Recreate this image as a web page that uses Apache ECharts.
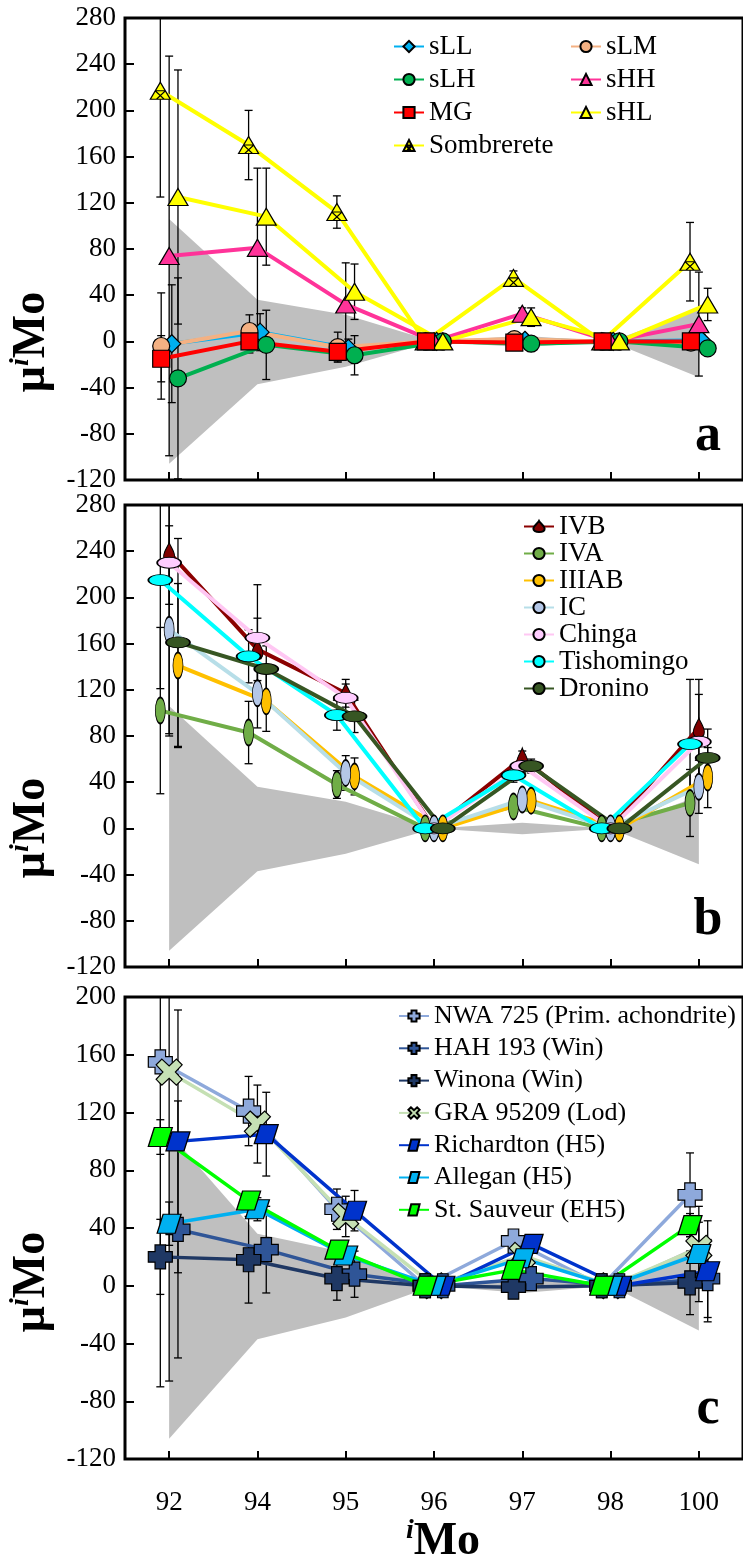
<!DOCTYPE html>
<html>
<head>
<meta charset="utf-8">
<script src="https://cdn.jsdelivr.net/npm/echarts@6/dist/echarts.min.js"></script>
<style>
html, body { margin: 0; padding: 0; background: #fff; }
#chart { width: 743px; height: 1563px; }
</style>
</head>
<body>
<div id="chart"></div>
<script>
// isotopes on the x axis
const isotopes = ['92', '94', '95', '96', '97', '98', '100'];

// grey reproducibility band (same in all panels)
const bandUpper = [106, 36, 23, 0, 5, 0, 28];
const bandLower = [-106, -37, -22, 0, -5, 0, -31];

// panel a
const sLL = [-2, 8, -6, 0, 1, 0, 1];
const sLLErr = [51, 16, 8, 3, 4, 3, 5];
const sLM = [-4, 9, -5, 0, 2, 0, -1];
const sLMErr = [46, 14, 13, 3, 4, 3, 5];
const sLH = [-32, -3, -12, 0, -2, 0, -6];
const sLHErr = [87, 30, 17, 3, 4, 3, 5];
const sHH = [74, 81, 32, 0, 24, 0, 15];
const sHHErr = [173, 69, 36, 3, 5, 3, 45];
const MG = [-15, 0, -9, 0, -1, 0, 0];
const MGErr = [20, 10, 8, 2, 3, 2, 3];
const sHL = [125, 108, 43, 0, 21, 0, 32];
const sHLErr = [110, 42, 24, 4, 8, 4, 14];
const sombrerete = [217, 170, 112, 0, 55, 0, 69];
const sombreteErr = [92, 30, 14, 4, 6, 4, 34];

// panel b
const IVB = [239, 155, 117, 0, 61, 0, 87];
const IVBErr = [45, 27, 12, 3, 6, 3, 42];
const IVA = [102, 83, 38, 0, 19, 0, 22];
const IVAErr = [72, 27, 12, 3, 6, 3, 29];
const IIIAB = [141, 110, 45, 0, 24, 0, 44];
const IIIABErr = [71, 26, 16, 3, 6, 3, 26];
const IC = [172, 117, 48, 0, 25, 0, 36];
const ICErr = [90, 30, 15, 3, 6, 3, 23];
const chinga = [230, 165, 113, 0, 54, 0, 75];
const chingaErr = [150, 46, 12, 3, 6, 3, 41];
const tishomingo = [215, 149, 98, 0, 46, 0, 73];
const tishomingoErr = [94, 23, 13, 3, 6, 3, 56];
const dronino = [161, 138, 97, 0, 54, 0, 61];
const droninoErr = [90, 20, 14, 3, 6, 3, 25];

// panel c
const nwa725 = [155, 121, 53, 0, 31, 0, 63];
const nwa725Err = [225, 24, 14, 4, 5, 4, 29];
const hah193 = [39, 25, 8, 0, 5, 0, 5];
const hah193Err = [89, 30, 16, 4, 5, 4, 27];
const winona = [20, 18, 5, 0, -1, 0, 2];
const winonaErr = [26, 30, 15, 4, 5, 4, 22];
const gra95209 = [148, 112, 48, 0, 21, 0, 26];
const gra95209Err = [214, 27, 14, 4, 5, 4, 18];
const richardton = [100, 105, 52, 0, 29, 0, 10];
const richardtonErr = [91, 29, 14, 4, 5, 4, 35];
const allegan = [43, 53, 21, 0, 19, 0, 22];
const alleganErr = [15, 8, 5, 3, 4, 3, 33];
const stSauveur = [103, 59, 25, 0, 11, 0, 42];
const stSauveurErr = [12, 6, 5, 3, 4, 3, 8];

const serif = "'Liberation Serif', 'Times New Roman', serif";

// marker shapes
const ELLIPSE = 'path://M20,10 C20,15.523 15.523,20 10,20 C4.477,20 0,15.523 0,10 C0,4.477 4.477,0 10,0 C15.523,0 20,4.477 20,10 Z';
const DROP = 'path://M5,0 C6,4 10,9 10,14 C10,17.5 8,20 5,20 C2,20 0,17.5 0,14 C0,9 4,4 5,0 Z';
const CROSS = 'path://M2.8,0 H7.2 V2.8 H10 V7.2 H7.2 V10 H2.8 V7.2 H0 V2.8 H2.8 Z';
const XSHAPE = 'path://M2.2,0 L5,2.6 L7.8,0 L10,2.2 L7.4,5 L10,7.8 L7.8,10 L5,7.4 L2.2,10 L0,7.8 L2.6,5 L0,2.2 Z';
const PARA = 'path://M3,0 H12 L9,10 H0 Z';
const HATCHTRI = 'path://M10,0 L20,17 L0,17 Z M5,8.5 L15,8.5 M5,8.5 L14,17 M15,8.5 L6,17';

function lineSeries(name, values, offset, panel, symbol, size, fill, line, width) {
  return {
    name: name,
    type: 'line',
    xAxisIndex: panel * 2 + 1,
    yAxisIndex: panel,
    data: values.map((v, i) => [i + offset, v]),
    symbol: symbol,
    symbolSize: size,
    showAllSymbol: true,
    lineStyle: { color: line, width: width },
    itemStyle: { color: fill, borderColor: '#000', borderWidth: 1.2 },
    z: 3,
    animation: false
  };
}

function errSeries(values, errs, offset, panel) {
  return {
    type: 'custom',
    xAxisIndex: panel * 2 + 1,
    yAxisIndex: panel,
    data: values.map((v, i) => [i + offset, v - errs[i], v + errs[i]]),
    clip: true,
    silent: true,
    z: 2,
    animation: false,
    renderItem: function (params, api) {
      const lo = api.coord([api.value(0), api.value(1)]);
      const hi = api.coord([api.value(0), api.value(2)]);
      const st = { stroke: '#000', lineWidth: 1.3 };
      return {
        type: 'group',
        children: [
          { type: 'line', shape: { x1: lo[0], y1: lo[1], x2: hi[0], y2: hi[1] }, style: st },
          { type: 'line', shape: { x1: lo[0] - 4, y1: lo[1], x2: lo[0] + 4, y2: lo[1] }, style: st },
          { type: 'line', shape: { x1: hi[0] - 4, y1: hi[1], x2: hi[0] + 4, y2: hi[1] }, style: st }
        ]
      };
    }
  };
}

function bandSeries(panel) {
  return {
    type: 'custom',
    xAxisIndex: panel * 2 + 1,
    yAxisIndex: panel,
    data: [[0, 0]],
    silent: true,
    z: 1,
    animation: false,
    renderItem: function (params, api) {
      const pts = [];
      bandUpper.forEach((v, i) => pts.push(api.coord([i, v])));
      for (let i = bandLower.length - 1; i >= 0; i--) pts.push(api.coord([i, bandLower[i]]));
      return { type: 'polygon', shape: { points: pts }, style: { fill: '#BFBFBF' } };
    }
  };
}

// name, values, errors, offset, symbol, size, fill, line colour, line width
const panelA = [
  ['sLL', sLL, sLLErr, 0.03, 'diamond', 18, '#00B0F0', '#00B0F0', 4],
  ['sLM', sLM, sLMErr, -0.09, 'circle', 17, '#F4B183', '#F4B183', 4],
  ['sLH', sLH, sLHErr, 0.1, 'circle', 17, '#00B050', '#00B050', 4],
  ['sHH', sHH, sHHErr, 0, 'triangle', [20, 17], '#FF3399', '#FF3399', 4],
  ['sHL', sHL, sHLErr, 0.1, 'triangle', [20, 17], '#FFFF00', '#FFFF00', 4],
  ['Sombrerete', sombrerete, sombreteErr, -0.1, HATCHTRI, [20, 17], '#FFFF00', '#FFFF00', 4],
  ['MG', MG, MGErr, -0.09, 'rect', 17, '#FF0000', '#FF0000', 4]
];
const panelB = [
  ['IVB', IVB, IVBErr, 0, DROP, [11, 20], '#800000', '#8B0000', 4],
  ['IVA', IVA, IVAErr, -0.1, ELLIPSE, [10, 26], '#70AD47', '#70AD47', 4],
  ['IIIAB', IIIAB, IIIABErr, 0.1, ELLIPSE, [10, 26], '#FFC000', '#FFC000', 4],
  ['IC', IC, ICErr, 0, ELLIPSE, [10, 26], '#B4C7E7', '#B7DEE8', 4],
  ['Chinga', chinga, chingaErr, 0, ELLIPSE, [24, 11], '#FFCCFF', '#FFC7F3', 4],
  ['Tishomingo', tishomingo, tishomingoErr, -0.1, ELLIPSE, [24, 11], '#00FFFF', '#00FFFF', 4],
  ['Dronino', dronino, droninoErr, 0.1, ELLIPSE, [24, 11], '#375623', '#375623', 4]
];
const panelC = [
  ['NWA 725 (Prim. achondrite)', nwa725, nwa725Err, -0.1, CROSS, 24, '#8EA9DB', '#8EA9DB', 3.5],
  ['GRA 95209 (Lod)', gra95209, gra95209Err, 0, XSHAPE, 26, '#C5E0B4', '#C5E0B4', 3.5],
  ['HAH 193 (Win)', hah193, hah193Err, 0.1, CROSS, 24, '#2F5597', '#2F5597', 3.5],
  ['Winona (Win)', winona, winonaErr, -0.1, CROSS, 24, '#1F3864', '#1F3864', 3.5],
  ['Richardton (H5)', richardton, richardtonErr, 0.1, PARA, [24, 19], '#0033CC', '#0033CC', 3.5],
  ['Allegan (H5)', allegan, alleganErr, 0, PARA, [24, 19], '#00B0F0', '#00B0F0', 3.5],
  ['St. Sauveur (EH5)', stSauveur, stSauveurErr, -0.1, PARA, [24, 19], '#00FF00', '#00FF00', 3.5]
];

const series = [];
[panelA, panelB, panelC].forEach((rows, p) => {
  series.push(bandSeries(p));
  rows.forEach(r => series.push(errSeries(r[1], r[2], r[3], p)));
  rows.forEach(r => series.push(lineSeries(r[0], r[1], r[3], p, r[4], r[5], r[6], r[7], r[8])));
});

const gridTops = [18, 505, 997];
const grids = gridTops.map(t => ({
  left: 125, width: 621, top: t, height: 462,
  show: true, borderColor: '#000', borderWidth: 3, backgroundColor: 'transparent'
}));

const xAxes = [];
const yAxes = [];
[0, 1, 2].forEach(p => {
  xAxes.push({
    type: 'category', gridIndex: p, data: isotopes, boundaryGap: true, position: 'bottom',
    axisLine: { show: false, onZero: false },
    axisTick: { show: true, inside: true, alignWithLabel: true, length: 8, lineStyle: { color: '#000', width: 2 } },
    axisLabel: { show: p === 2, color: '#000', fontFamily: serif, fontSize: 27, margin: 30 },
    splitLine: { show: false }
  });
  xAxes.push({ type: 'value', gridIndex: p, min: -0.5, max: 6.5, show: false });
  yAxes.push({
    type: 'value', gridIndex: p, min: -120, max: p === 2 ? 200 : 280, interval: 40,
    axisLine: { show: false, onZero: false },
    axisTick: { show: true, inside: true, length: 9, lineStyle: { color: '#000', width: 2 } },
    axisLabel: { color: '#000', fontFamily: serif, fontSize: 27, margin: 9 },
    splitLine: { show: false }
  });
});

function legend(names, left, top, gap, size) {
  return {
    data: names, left: left, top: top, orient: 'vertical', padding: 0,
    itemWidth: 30, itemHeight: 14, itemGap: gap, selectedMode: false,
    textStyle: { fontFamily: serif, fontSize: size, color: '#000' }
  };
}

const muRich = {
  m: { fontFamily: serif, fontWeight: 'bold', fontSize: 46, fill: '#000', lineHeight: 50 },
  s: { fontFamily: serif, fontWeight: 'bold', fontStyle: 'italic', fontSize: 28, fill: '#000', verticalAlign: 'top', lineHeight: 50 }
};
function yTitle(cy) {
  return {
    type: 'text', x: 32, y: cy, rotation: Math.PI / 2,
    style: { text: '{m|μ}{s|i}{m|Mo}', rich: muRich, align: 'center', verticalAlign: 'middle' }
  };
}
function panelLetter(txt, cx, cy) {
  return {
    type: 'text', x: cx, y: cy,
    style: { text: txt, fontFamily: serif, fontWeight: 'bold', fontSize: 52, fill: '#000', align: 'center', verticalAlign: 'middle' }
  };
}

const chart = echarts.init(document.getElementById('chart'));
chart.setOption({
  backgroundColor: '#fff',
  animation: false,
  textStyle: { fontFamily: serif },
  grid: grids,
  xAxis: xAxes,
  yAxis: yAxes,
  legend: [
    legend(['sLL', 'sLH', 'MG', 'Sombrerete'], 393, 33, 6, 27),
    legend(['sLM', 'sHH', 'sHL'], 570, 33, 6, 27),
    legend(['IVB', 'IVA', 'IIIAB', 'IC', 'Chinga', 'Tishomingo', 'Dronino'], 523, 513, 0, 27),
    legend(['NWA 725 (Prim. achondrite)', 'HAH 193 (Win)', 'Winona (Win)', 'GRA 95209 (Lod)',
      'Richardton (H5)', 'Allegan (H5)', 'St. Sauveur (EH5)'], 398, 1003, 6.3, 26)
  ],
  graphic: [
    yTitle(342), yTitle(828), yTitle(1282),
    {
      type: 'text', x: 443, y: 1542,
      style: { text: '{s|i}{m|Mo}', rich: muRich, align: 'center', verticalAlign: 'middle' }
    },
    panelLetter('a', 708, 437),
    panelLetter('b', 708, 921),
    panelLetter('c', 708, 1410)
  ],
  series: series
});
</script>
</body>
</html>
